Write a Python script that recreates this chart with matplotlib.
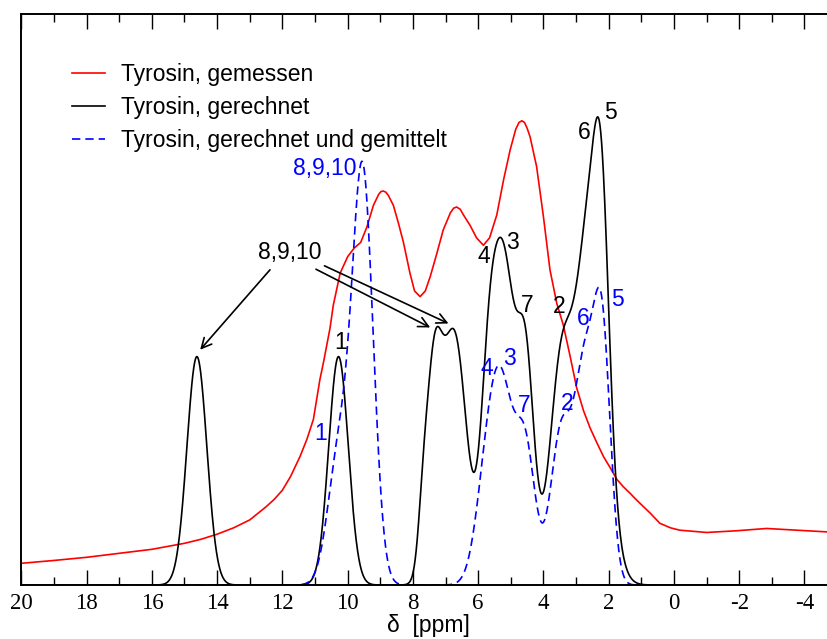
"""Tyrosin 1H-NMR: gemessenes vs. gerechnetes Spektrum."""
import matplotlib
matplotlib.use('Agg')
import matplotlib.pyplot as plt
from matplotlib.ticker import MultipleLocator
import numpy as np

meas_ppm = [20.0, 19.0, 18.0, 17.0, 16.0, 15.0, 14.5, 14.0, 13.5, 13.0, 12.5, 12.25,
            12.0, 11.75, 11.46, 11.25, 11.05, 10.85, 10.74, 10.54, 10.44, 10.23, 10.0,
            9.8, 9.6, 9.41, 9.21, 9.05, 8.98, 8.91, 8.83, 8.75, 8.6, 8.45, 8.29, 8.09,
            7.95, 7.78, 7.62, 7.47, 7.27, 7.07, 6.85, 6.75, 6.66, 6.55, 6.45, 6.25, 6.05,
            5.84, 5.65, 5.43, 5.22, 5.02, 4.85, 4.75, 4.66, 4.58, 4.5, 4.41, 4.21, 4.0,
            3.8, 3.59, 3.39, 3.18, 2.98, 2.77, 2.57, 2.37, 2.16, 1.95, 1.75, 1.55, 1.35,
            1.2, 1.04, 0.73, 0.43, 0.1, -0.18, -0.8, -1.0, -1.92, -2.84, -3.76, -4.7]
meas_int = [0.038, 0.043, 0.0485, 0.0555, 0.0625, 0.073, 0.08, 0.089, 0.10, 0.114, 0.137,
            0.15, 0.166, 0.19, 0.225, 0.255, 0.29, 0.36, 0.39, 0.45, 0.49, 0.546, 0.575,
            0.59, 0.60, 0.627, 0.665, 0.684, 0.689, 0.69, 0.688, 0.682, 0.665, 0.635, 0.60,
            0.546, 0.515, 0.505, 0.515, 0.54, 0.58, 0.622, 0.652, 0.66, 0.662, 0.658, 0.648,
            0.63, 0.608, 0.595, 0.608, 0.648, 0.71, 0.762, 0.798, 0.81, 0.813, 0.81, 0.80,
            0.785, 0.733, 0.645, 0.552, 0.493, 0.455, 0.40, 0.345, 0.305, 0.275, 0.25,
            0.225, 0.205, 0.185, 0.172, 0.161, 0.152, 0.143, 0.126, 0.108, 0.10, 0.096,
            0.093, 0.092, 0.095, 0.099, 0.096, 0.093]

# gerechnet: Linien (Lage ppm, Hoehe, Breite sigma)
calc_pos = [14.62, 10.28, 7.697, 7.367, 6.730, 5.702, 5.221, 4.537, 3.477, 2.553, 2.207]
calc_amp = [0.400, 0.400, 0.0771, 0.3187, 0.4369, 0.2564, 0.5493, 0.3643, 0.3542, 0.6421, 0.2949]
calc_sig = [0.305, 0.300, 0.1465, 0.2405, 0.3769, 0.2468, 0.3456, 0.2591, 0.3509, 0.4391, 0.2237]

# gerechnet und gemittelt
avg_pos = [10.262, 9.537, 5.822, 5.320, 4.535, 3.450, 2.738, 2.204]
avg_amp = [0.2261, 0.7161, 0.0811, 0.3530, 0.2136, 0.2698, 0.3510, 0.4307]
avg_sig = [0.3428, 0.3215, 0.3234, 0.4058, 0.2934, 0.3305, 0.2976, 0.2584]

# Peak-Zuordnung (Text, ppm, Intensitaet)
black_lbl = [("1", 10.22, 0.425), ("4", 5.84, 0.575), ("3", 4.95, 0.60),
             ("7", 4.49, 0.49), ("2", 3.52, 0.487), ("6", 2.76, 0.792), ("5", 1.96, 0.827)]
blue_lbl = [("1", 10.84, 0.266), ("8,9,10", 10.71, 0.729), ("4", 5.72, 0.380),
            ("3", 5.04, 0.397), ("7", 4.6, 0.315), ("2", 3.26, 0.318),
            ("6", 2.78, 0.467), ("5", 1.74, 0.5)]


def spectrum(x, pos, amp, sig):
    y = np.zeros_like(x)
    for c, a, s in zip(pos, amp, sig):
        y += a * np.exp(-(x - c) ** 2 / (2 * s * s))
    return y


plt.rcParams.update({
    'font.family': 'Liberation Sans', 'font.size': 16.5,
    'axes.linewidth': 1.4, 'axes.unicode_minus': False,
})

fig = plt.figure(figsize=(8.27, 6.39), dpi=100)
ax = fig.add_axes([0.0258, 0.0845, 0.9742, 0.8936])

x = np.linspace(20, -4.7, 3000)
ax.plot(meas_ppm, meas_int, color='#ff0000', lw=1.2, label='Tyrosin, gemessen')
ax.plot(x, spectrum(x, calc_pos, calc_amp, calc_sig), color='black', lw=1.2,
        label='Tyrosin, gerechnet')
ax.plot(x, spectrum(x, avg_pos, avg_amp, avg_sig), color='#0000ff', lw=1.2,
        ls=(0, (5, 3)), label='Tyrosin, gerechnet und gemittelt')

ax.set_xlim(20, -4.69)
ax.set_ylim(0, 1.0)
ax.spines['right'].set_visible(False)
ax.xaxis.set_major_locator(MultipleLocator(2))
ax.xaxis.set_minor_locator(MultipleLocator(1))
ax.tick_params(axis='x', which='both', direction='in', top=True, width=1.0, pad=6,
               labelfontfamily='Liberation Serif', labelsize=16.5)
ax.tick_params(axis='x', which='major', length=11)
ax.tick_params(axis='x', which='minor', length=6)
ax.set_yticks([])
ax.set_xlabel('δ  [ppm]', va='center')
ax.xaxis.set_label_coords(0.505, -0.071)

ax.legend(loc='upper left', bbox_to_anchor=(0.051, 0.93), frameon=False,
          handlelength=1.45, handletextpad=0.7, labelspacing=0.44, borderaxespad=0)

for t, px, py in black_lbl:
    ax.text(px, py, t, ha='center', va='center', color='black')
for t, px, py in blue_lbl:
    ax.text(px, py, t, ha='center', va='center', color='#0000ff')

ax.text(11.77, 0.583, "8,9,10", ha='center', va='center')
arrows = [((12.38, 0.552), (14.52, 0.412)),
          ((10.71, 0.559), (6.91, 0.458)),
          ((10.97, 0.553), (7.47, 0.451))]
for start, end in arrows:
    ax.annotate('', xy=end, xytext=start,
                arrowprops=dict(arrowstyle='->', color='black', lw=1.2,
                                mutation_scale=18, shrinkA=0, shrinkB=0))

fig.savefig('out.png', dpi=100)
